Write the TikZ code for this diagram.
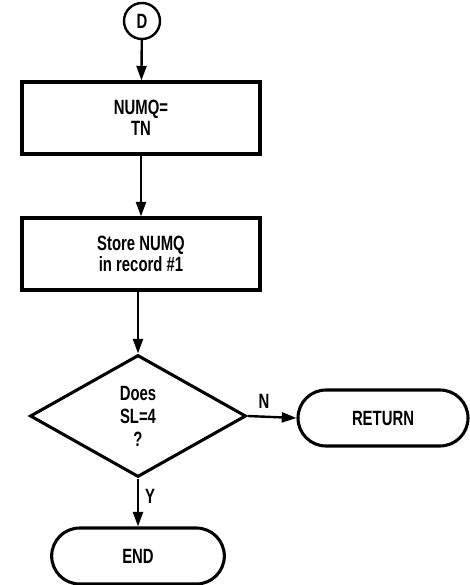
\documentclass[tikz,border=0pt]{standalone}
\usepackage{fontspec}
\setmainfont{Liberation Sans}[FakeStretch=0.72]
\usetikzlibrary{arrows.meta,shapes.geometric,shapes.misc}

\tikzset{every picture/.style={line width=0.75pt}}
\tikzset{
  flowtext/.style={font=\bfseries\fontsize{15.5}{15.75}\selectfont, align=center, inner sep=0.75pt},
  procbox/.style={draw, line width=2.3pt, minimum width=178.5pt, minimum height=54pt, flowtext},
  termbox/.style={draw, rounded rectangle, line width=2.3pt, minimum width=129pt, minimum height=42pt, flowtext},
  flowline/.style={line width=1.8pt, -{Triangle[length=11pt,width=7.5pt]}}
}

\begin{document}
\begin{tikzpicture}[x=0.75pt,y=0.75pt,yscale=-1,xscale=1]
\useasboundingbox (0,0) rectangle (470,585);

%Shape: Circle [id:connD]
\node [draw, circle, line width=1.8pt, minimum size=27pt, inner sep=0pt, flowtext] (connD) at (142,21) {D};
%Shape: Rectangle [id:setNumq]
\node [procbox] (setNumq) at (141,118) {NUMQ=\\TN};
%Shape: Rectangle [id:storeNumq]
\node [procbox] (storeNumq) at (141,254) {Store NUMQ\\in record \#1};
%Shape: Diamond [id:testSl]
\node [draw, diamond, line width=2.3pt, inner sep=0pt, aspect=1.77, minimum width=162pt, minimum height=91.5pt, font=\bfseries\fontsize{15.5}{17.25}\selectfont, align=center] (testSl) at (138,416) {Does\\SL=4\\?};
%Shape: Rounded Rectangle [id:retNode]
\node [termbox] (retNode) at (383,418) {RETURN};
%Shape: Rounded Rectangle [id:endNode]
\node [termbox, minimum width=131pt] (endNode) at (138,556) {END};

%Straight Lines [id:connD-setNumq]
\draw [flowline] (connD) -- (setNumq);
%Straight Lines [id:setNumq-storeNumq]
\draw [flowline] (setNumq) -- (storeNumq);
%Straight Lines [id:storeNumq-testSl]
\draw [flowline] (storeNumq.south -| testSl.north) -- (testSl.north);
%Straight Lines [id:testSl-retNode]
\draw [flowline] (testSl.east) -- (retNode.west);
%Straight Lines [id:testSl-endNode]
\draw [flowline] (testSl.south) -- (endNode.north);

% Text Node
\node [flowtext] (labN) at (264,401) {N};
% Text Node
\node [flowtext] (labY) at (150,496) {Y};

\end{tikzpicture}
\end{document}
